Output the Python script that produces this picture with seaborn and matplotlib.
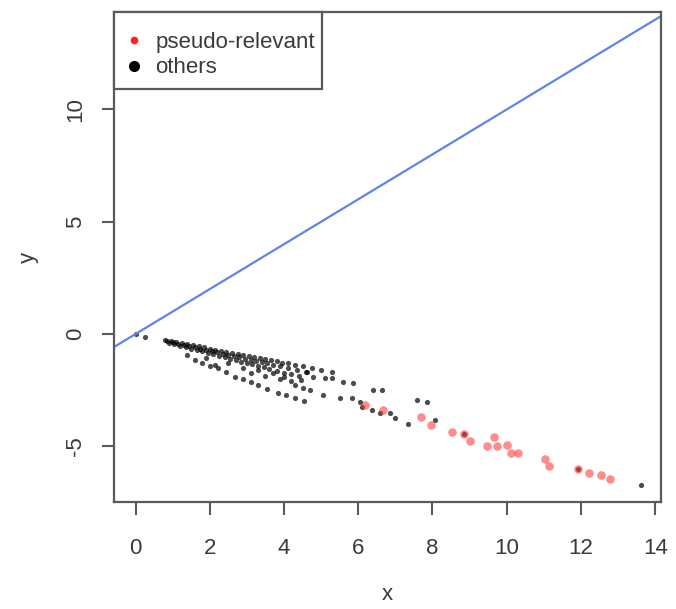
import matplotlib
matplotlib.use("Agg")
import matplotlib.pyplot as plt
from matplotlib.lines import Line2D
from matplotlib.patches import Rectangle
import seaborn as sns
import pandas as pd

# pseudo-relevant points (red)
rel_x = [6.19, 6.68, 7.70, 7.96, 8.52, 8.86, 9.02, 9.66, 9.47, 9.74, 10.02, 10.11, 10.30,
         11.04, 11.15, 11.92, 12.21, 12.54, 12.79]
rel_y = [-3.16, -3.39, -3.71, -4.05, -4.37, -4.46, -4.78, -4.57, -4.97, -4.97, -4.94, -5.29, -5.32,
         -5.57, -5.88, -6.01, -6.18, -6.28, -6.47]

# other points (black)
oth_x = [0.00, 0.26,
         0.80, 0.95, 1.10, 1.25, 1.40, 1.55, 1.70, 1.85, 2.00, 2.15, 2.30, 2.45, 2.60, 2.75,
         2.90, 3.05, 3.20, 3.35, 3.50, 3.65, 3.80, 3.95, 4.10, 4.30, 4.50, 4.75, 5.00, 5.30,
         0.85, 1.00, 1.15, 1.30, 1.45, 1.60, 1.75, 1.90, 2.05, 2.20, 2.35, 2.50, 2.65, 2.80,
         2.95, 3.10, 3.25, 3.40, 3.55, 3.70, 3.90, 4.10, 4.35, 4.60,
         0.90, 1.05, 1.20, 1.35, 1.50, 1.65, 1.80, 1.95, 2.10, 2.25, 2.40, 2.55, 2.70, 2.85,
         3.00, 3.15, 3.30, 3.45, 3.60, 3.80, 4.00, 4.20, 4.40,
         1.38, 1.90, 2.14, 2.50, 2.90, 3.10, 3.30, 3.50, 3.70, 3.90, 4.00, 4.20, 4.30, 4.45,
         4.61, 4.79, 5.10, 5.29, 5.60, 5.87, 4.52, 4.70, 5.06, 5.50, 5.83, 6.05, 6.40, 6.64,
         6.10, 6.37, 6.59, 6.86, 7.58, 7.85, 7.00, 7.35, 8.07, 8.86, 11.92,
         1.60, 1.80, 2.00, 2.23, 2.45, 2.68, 2.90, 3.10, 3.30, 3.55, 3.84, 4.05, 4.30, 4.55,
         13.63]
oth_y = [0.00, -0.12,
         -0.27, -0.31, -0.36, -0.40, -0.45, -0.50, -0.55, -0.60, -0.65, -0.70, -0.74, -0.79, -0.84, -0.89,
         -0.93, -0.98, -1.03, -1.08, -1.12, -1.17, -1.22, -1.27, -1.31, -1.38, -1.44, -1.52, -1.60, -1.70,
         -0.31, -0.37, -0.43, -0.48, -0.54, -0.59, -0.65, -0.70, -0.76, -0.81, -0.87, -0.93, -0.98, -1.04,
         -1.09, -1.15, -1.20, -1.26, -1.31, -1.37, -1.44, -1.52, -1.61, -1.70,
         -0.38, -0.45, -0.52, -0.58, -0.65, -0.71, -0.77, -0.84, -0.90, -0.97, -1.03, -1.10, -1.16, -1.23,
         -1.29, -1.35, -1.42, -1.48, -1.55, -1.63, -1.72, -1.80, -1.89,
         -0.94, -1.05, -1.38, -1.30, -1.50, -1.75, -1.60, -1.85, -1.75, -2.00, -1.90, -2.10, -2.25, -2.05,
         -1.68, -1.90, -1.97, -1.97, -2.12, -2.19, -2.40, -2.50, -2.72, -2.86, -2.87, -3.01, -2.50, -2.50,
         -3.24, -3.39, -3.53, -3.53, -2.94, -3.01, -3.76, -4.02, -3.83, -4.45, -6.01,
         -1.16, -1.28, -1.42, -1.53, -1.70, -1.90, -2.02, -2.15, -2.27, -2.45, -2.63, -2.72, -2.85, -3.00,
         -6.73]

line_x = [-1.0, 15.0]
line_y = [-1.0, 15.0]

x_ticks = [0, 2, 4, 6, 8, 10, 12, 14]
y_ticks = [-5, 0, 5, 10]

sns.set_style("white")
plt.rcParams['font.family'] = ['Liberation Sans', 'DejaVu Sans']

FS = 16
TXT = "#3a3a3a"
EDGE = "#5a5a5a"

fig = plt.figure(figsize=(6.76, 6.09), dpi=100)
ax = fig.add_axes([0.1686, 0.1757, 0.8094, 0.8046])

rel = pd.DataFrame({"x": rel_x, "y": rel_y})
oth = pd.DataFrame({"x": oth_x, "y": oth_y})

sns.scatterplot(data=oth, x="x", y="y", ax=ax, color="black", s=14, alpha=0.7,
                linewidth=0, legend=False)
sns.scatterplot(data=rel, x="x", y="y", ax=ax, color="#ff3030", s=38, alpha=0.55,
                linewidth=0, legend=False)
sns.lineplot(x=line_x, y=line_y, ax=ax, color="#5f84ea", linewidth=1.6)

ax.set_xlim(-0.58, 14.16)
ax.set_ylim(-7.48, 14.34)
ax.set_xticks(x_ticks)
ax.set_yticks(y_ticks)
ax.set_xticklabels([str(t) for t in x_ticks], fontsize=FS, color=TXT)
ax.set_yticklabels([str(t) for t in y_ticks], fontsize=FS, color=TXT,
                   rotation=90, va="center")
ax.tick_params(axis="both", direction="out", length=9, width=1.5, color=EDGE,
               bottom=True, left=True)
ax.tick_params(axis="x", pad=17)
ax.tick_params(axis="y", pad=11)
ax.set_xlabel("x", fontsize=FS, color=TXT, labelpad=18)
ax.set_ylabel("y", fontsize=FS, color=TXT, labelpad=19)
for sp in ax.spines.values():
    sp.set_color(EDGE)
    sp.set_linewidth(1.6)

# legend frame drawn as a box in axes coordinates
ax.add_patch(Rectangle((0.0, 0.843), 0.380, 0.157, transform=ax.transAxes,
                       facecolor="white", edgecolor=EDGE, linewidth=1.6, zorder=4,
                       clip_on=False))
handles = [Line2D([], [], linestyle="none", marker="o", markersize=4.5, color="#ff2020"),
           Line2D([], [], linestyle="none", marker="o", markersize=7, color="black")]
leg = ax.legend(handles, ["pseudo-relevant", "others"], loc="upper left",
                bbox_to_anchor=(0.0, 0.982), frameon=False,
                fontsize=FS, borderaxespad=0, handletextpad=0.55,
                borderpad=0.5, labelspacing=0.2, handlelength=0.8)
leg.set_zorder(5)
for t in leg.get_texts():
    t.set_color(TXT)

fig.savefig("out.png", dpi=100)
